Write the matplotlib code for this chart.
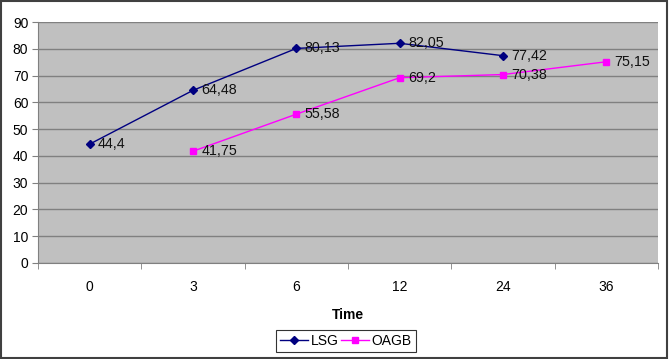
import matplotlib
matplotlib.use("Agg")
import matplotlib.pyplot as plt
import numpy as np

plt.rcParams['font.family'] = ['Liberation Sans', 'DejaVu Sans']

categories = ["0", "3", "6", "12", "24", "36"]
lsg = [44.4, 64.48, 80.13, 82.05, 77.42]
oagb = [None, 41.75, 55.58, 69.2, 70.38, 75.15]
lsg_labels = ["44,4", "64,48", "80,13", "82,05", "77,42"]
oagb_labels = [None, "41,75", "55,58", "69,2", "70,38", "75,15"]

fig = plt.figure(figsize=(6.69, 3.59), dpi=100)
ax = fig.add_axes([38/669, 1-263/359, (658-38)/669, (263-22)/359])
ax.set_facecolor('#c0c0c0')

x = np.arange(len(categories))
ax.plot(x[:len(lsg)], lsg, color='#000080', marker='D', markersize=4.5, lw=1, label='LSG', zorder=3)
ox = [i for i, v in enumerate(oagb) if v is not None]
oy = [v for v in oagb if v is not None]
ax.plot(ox, oy, color='#ff00ff', marker='s', markersize=5, lw=1, label='OAGB', zorder=3)

for i, (v, t) in enumerate(zip(lsg, lsg_labels)):
    ax.annotate(t, (x[i], v), xytext=(6, 0), textcoords='offset points', va='center', ha='left', fontsize=10.3, color='#111111')
for i, (v, t) in enumerate(zip(oagb, oagb_labels)):
    if v is None:
        continue
    ax.annotate(t, (x[i], v), xytext=(6, 0), textcoords='offset points', va='center', ha='left', fontsize=10.3, color='#111111')

ax.set_xlim(-0.5, len(categories) - 0.5)
ax.set_ylim(0, 90)
ax.set_yticks(range(0, 91, 10))
ax.set_xticks(x)
ax.set_xticklabels(categories, fontsize=10)
ax.set_xticks(np.arange(-0.5, len(categories), 1), minor=True)
ax.tick_params(axis='x', which='major', length=0, pad=12)
ax.tick_params(axis='x', which='minor', length=4, color='#808080')
ax.tick_params(axis='y', length=4, color='#808080', labelsize=10, pad=3)
ax.yaxis.grid(True, color='#808080', lw=1)
ax.set_axisbelow(True)
for s in ['top', 'right']:
    ax.spines[s].set_visible(False)
ax.spines['left'].set_color('#808080')
ax.spines['bottom'].set_color('#808080')
ax.set_xlabel('Time', fontsize=10, fontweight='bold', labelpad=10)

leg = fig.legend(loc='center', bbox_to_anchor=(346/669, 1-341/359), ncol=2, fontsize=10,
                 frameon=True, fancybox=False, edgecolor='#000000', handlelength=2.0,
                 columnspacing=0.2, handletextpad=0.2, borderpad=0.3, borderaxespad=0)
leg.get_frame().set_linewidth(0.8)

fig.patches.append(plt.Rectangle((0.002, 0.003), 0.995, 0.994, transform=fig.transFigure,
                                 fill=False, edgecolor='#404040', lw=1.5))
fig.savefig('out.png', dpi=100)
